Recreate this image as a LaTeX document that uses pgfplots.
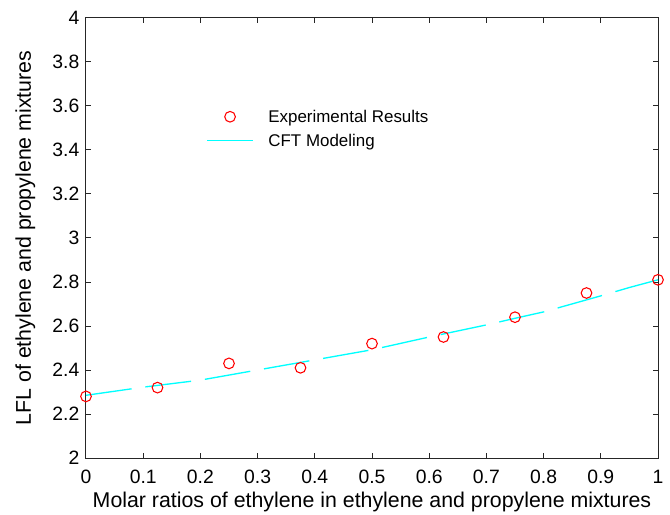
\documentclass[border=0pt]{standalone}
\usepackage{fontspec}
\setmainfont{Liberation Sans}
\usepackage{pgfplots}
\pgfplotsset{compat=1.18}
\definecolor{mcyan}{RGB}{0,255,255}
\definecolor{mred}{RGB}{255,0,0}
\begin{document}
\begin{tikzpicture}
\begin{axis}[name=ax, scale only axis, width=429pt, height=330pt,
  xmin=0, xmax=1, ymin=2, ymax=4,
  xtick={0,0.1,0.2,0.3,0.4,0.5,0.6,0.7,0.8,0.9,1},
  ytick={2,2.2,2.4,2.6,2.8,3,3.2,3.4,3.6,3.8,4},
  tick align=inside, major tick length=3.75pt,
  axis line style={line width=0.75pt, black!85},
  every tick/.style={line width=0.75pt, black!85},
  /pgf/number format/assume math mode=true,
  tick label style={font=\fontsize{14.5}{17}\selectfont},
  xticklabel style={anchor=base, yshift=-19pt},
  yticklabel style={xshift=-1.5pt},
  label style={font=\fontsize{16}{19}\selectfont},
  xlabel={Molar ratios of ethylene in ethylene and propylene mixtures},
  ylabel={LFL of ethylene and propylene mixtures},
  xlabel style={at={(axis description cs:0.5,-0.1136)}, anchor=base, inner sep=0pt},
  ylabel style={at={(axis description cs:-0.124,0.5)}, anchor=north, inner sep=0pt},
  legend style={at={(axis description cs:0.21,0.791)}, anchor=north west, draw=none, fill=none,
    inner sep=0pt, font=\fontsize{12.7}{15}\selectfont,
    nodes={inner sep=0pt, text height=9.5pt, text depth=3pt, anchor=base west},
    row sep=5.5pt, column sep=11pt},
  legend cell align=left,
  legend image code/.code={\draw[mark repeat=2,mark phase=2,#1] plot coordinates {(0pt,4.6pt) (17.25pt,4.6pt) (34.5pt,4.6pt)};},
  clip=false,
]
\addplot[only marks, mark=o, mark size=4pt, mred, mark options={line width=0.8pt}] coordinates {
  (0,2.28) (0.125,2.32) (0.25,2.43) (0.375,2.41) (0.5,2.52)
  (0.625,2.55) (0.75,2.64) (0.875,2.75) (1,2.81)
};
\addlegendentry{Experimental Results}
\addplot[mcyan, line width=1pt, dash pattern=on 34.5pt off 10.5pt] coordinates {
  (0,2.285) (0.1,2.322) (0.2,2.354) (0.3,2.400) (0.4,2.446) (0.5,2.492)
  (0.6,2.55) (0.7,2.605) (0.75,2.635) (0.8,2.664) (0.9,2.737) (0.95,2.775) (1,2.81)
};
\addlegendentry{CFT Modeling}
\end{axis}
\pgfresetboundingbox
\path ([shift={(-64.5pt,-42pt)}]ax.south west) rectangle ([shift={(9pt,13.5pt)}]ax.north east);
\end{tikzpicture}
\end{document}
